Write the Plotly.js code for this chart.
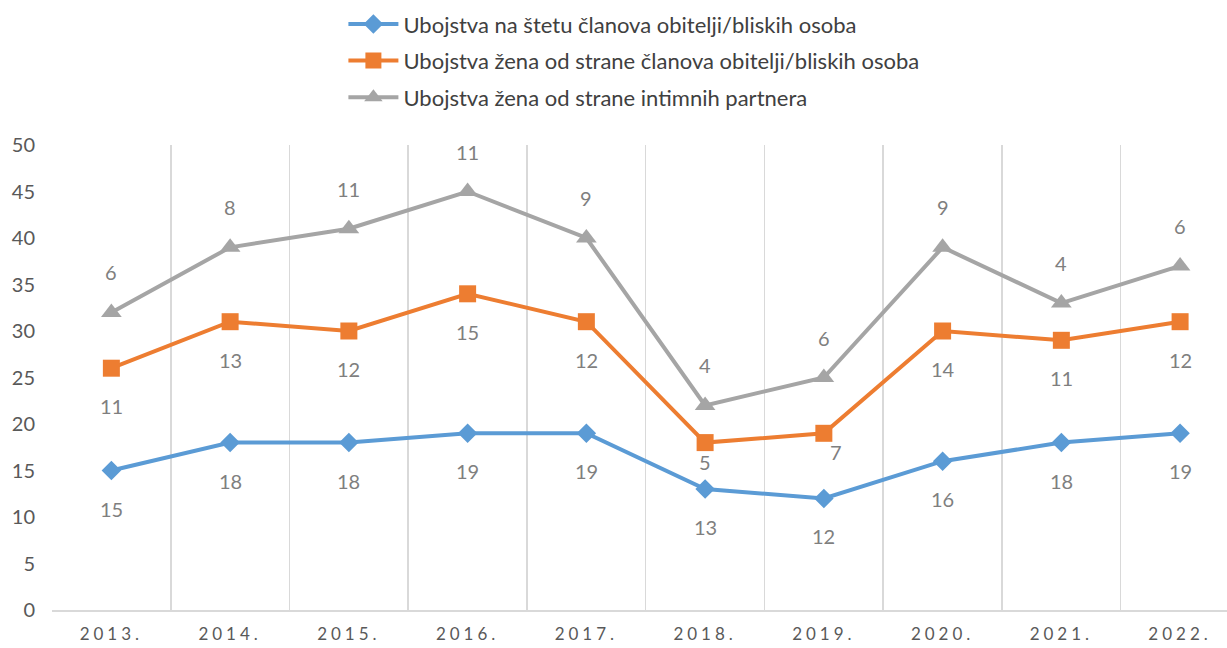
<!DOCTYPE html>
<html><head><meta charset="utf-8">
<script src="https://cdn.plot.ly/plotly-3.0.1.min.js"></script>
<style>
body{margin:0;background:#fff;}
#chart{width:1227px;height:648px;}
.xtick text{letter-spacing:4px;}
</style>
</head><body><div id="chart"></div>
<script>
const years = ["2013.","2014.","2015.","2016.","2017.","2018.","2019.","2020.","2021.","2022."];
const seriesNames = [
  "Ubojstva na štetu članova obitelji/bliskih osoba",
  "Ubojstva žena od strane članova obitelji/bliskih osoba",
  "Ubojstva žena od strane intimnih partnera"
];
const familyVictims = [15,18,18,19,19,13,12,16,18,19];
const womenByFamily = [11,13,12,15,12,5,7,14,11,12];
const womenByPartner = [6,8,11,11,9,4,6,9,4,6];

const colors = ["#5B9BD5","#ED7D31","#A5A5A5"];
const symbols = ["diamond","square","triangle-up"];
const msizes = [15,17,18];
const labelShift = [-38,-38,40];
// per-label pixel nudges (style only): series index -> {pointIndex: [dx, dy]}
const labelNudge = {1:{5:[0,-19], 6:[12,-19]}};
const font = "Lato, sans-serif";

const raw = [familyVictims, womenByFamily, womenByPartner];
const cum = [];
let run = years.map(()=>0);
raw.forEach(r=>{ run = run.map((v,i)=>v+r[i]); cum.push(run.slice()); });

const traces = raw.map((r,k)=>({
  type:"scatter", mode:"lines+markers", name:seriesNames[k], legendgroup:"g"+k,
  x:years.map((_,i)=>i), y:cum[k],
  line:{color:colors[k], width:4},
  marker:{color:colors[k], symbol:symbols[k], size:msizes[k]},
  hoverinfo:"skip"
}));

const annotations = [];
raw.forEach((r,k)=>r.forEach((v,i)=>{
  const n = (labelNudge[k] && labelNudge[k][i]) || [0, labelShift[k]];
  annotations.push({
    x:i, y:cum[k][i], xref:"x", yref:"y", text:String(v), showarrow:false,
    xanchor:"center", yanchor:"middle", xshift:n[0], yshift:n[1],
    font:{family:font, size:20, color:"#7F7F7F"}
  });
}));

const layout = {
  width:1227, height:648,
  margin:{l:52, r:0, t:145, b:38},
  paper_bgcolor:"#fff", plot_bgcolor:"#fff",
  showlegend:true,
  legend:{x:0.248, xanchor:"left", y:1.305, yanchor:"top", orientation:"v",
    font:{family:font, size:22, color:"#404040"}, tracegroupgap:5, itemwidth:50},
  xaxis:{type:"linear", range:[-0.5,9.395],
    tickvals:years.map((_,i)=>i), ticktext:years,
    showgrid:false, minor:{tickvals:years.map((_,i)=>i-0.5), showgrid:true, gridcolor:"#D9D9D9", gridwidth:1.5, ticks:""},
    showline:true, linecolor:"#D9D9D9", linewidth:1.5, ticks:"", ticklabelstandoff:8,
    tickfont:{family:font, size:17, color:"#595959"}, zeroline:false},
  yaxis:{range:[0,50], dtick:5, showgrid:false, zeroline:false, showline:false,
    tickfont:{family:font, size:20, color:"#595959"}, ticks:"", ticklabelstandoff:16},
  annotations:annotations
};
Plotly.newPlot("chart", traces, layout, {displayModeBar:false, staticPlot:true});
</script></body></html>
